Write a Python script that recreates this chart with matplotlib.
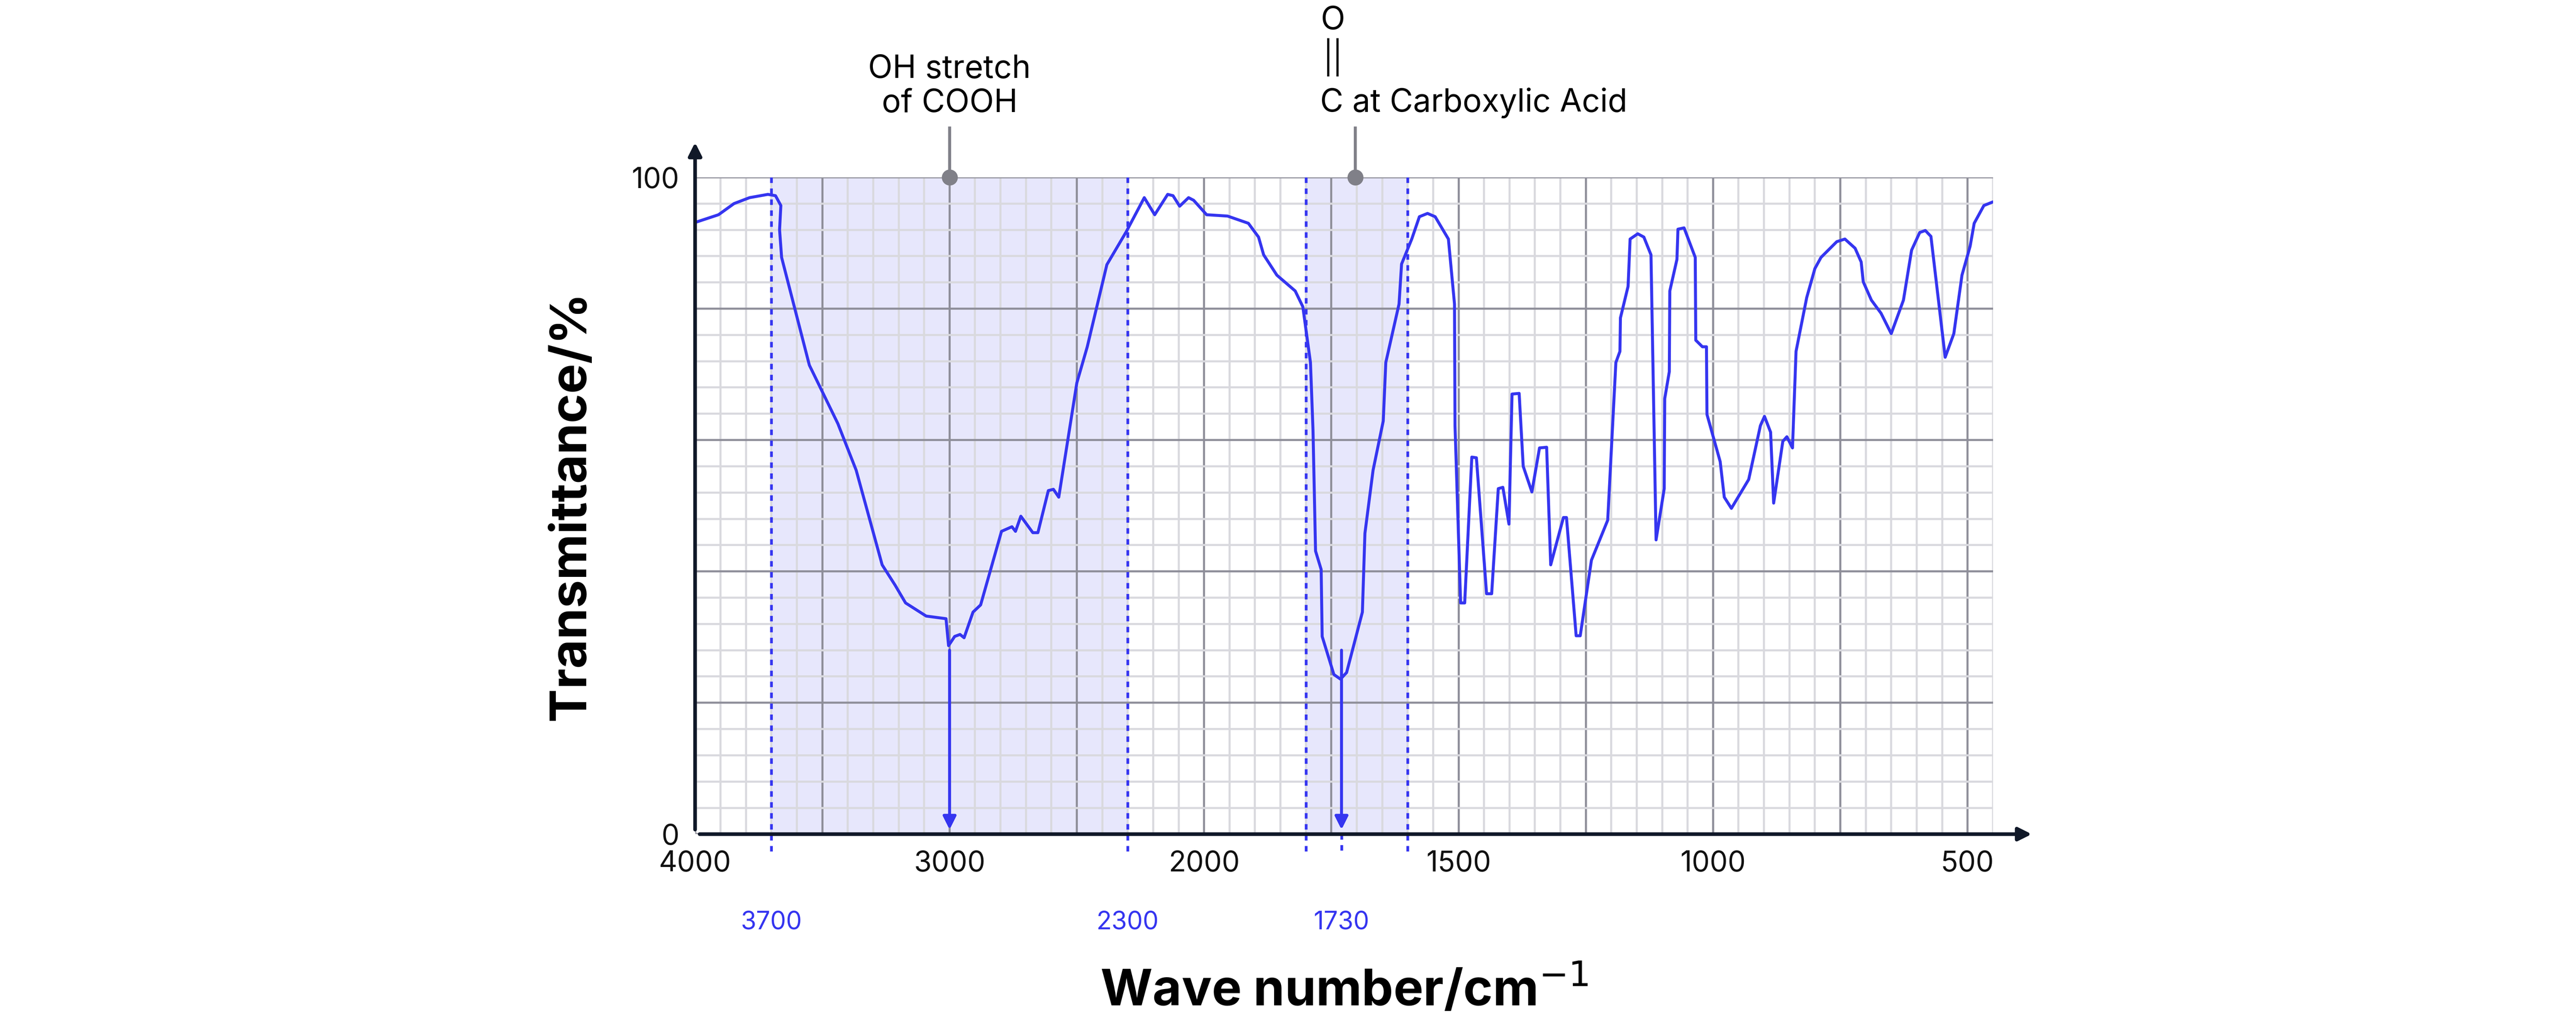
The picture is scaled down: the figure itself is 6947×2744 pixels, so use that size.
import matplotlib
matplotlib.use("Agg")
import matplotlib.pyplot as plt
import numpy as np

plt.rcParams['font.family'] = ['Inter', 'DejaVu Sans']

wavenumber = [3994,3908,3847,3786,3714,3684,3663,3668,3660,3551,3439,3367,3265,3214,3173,3092,3014,3004,2980,2959,2943,2908,2878,2796,2755,2741,2720,2673,2653,2612,2592,2571,2500,2459,2382,2306,2235,2194,2143,2122,2096,2061,2041,1995,1954,1913,1893,1883,1857,1821,1806,1791,1786,1781,1770,1768,1745,1732,1720,1689,1684,1668,1648,1643,1617,1612,1592,1577,1561,1546,1520,1508,1507,1496,1488,1474,1465,1445,1435,1422,1413,1401,1395,1381,1373,1356,1341,1327,1319,1294,1288,1269,1261,1239,1207,1191,1183,1182,1167,1163,1148,1136,1122,1112,1096,1095,1086,1085,1071,1069,1057,1035,1034,1021,1013,1012,986,978,964,930,907,899,887,881,863,855,844,837,816,800,788,757,741,721,709,705,689,670,650,626,610,594,583,572,544,527,511,495,487,468,452]
transmittance = [93.2,94.3,96.0,96.9,97.4,97.2,95.7,92.0,87.8,71.4,62.5,55.4,41.0,37.9,35.2,33.2,32.8,28.7,30.1,30.4,29.9,33.8,34.9,46.1,46.8,46.1,48.4,45.9,45.9,52.3,52.5,51.3,68.7,74.2,86.7,91.7,96.9,94.3,97.4,97.2,95.6,96.9,96.5,94.3,94.1,93.0,90.9,88.2,85.1,82.7,80.3,71.8,61.5,43.1,40.3,30.1,24.3,23.6,24.6,33.8,45.8,55.4,62.9,71.8,80.7,86.8,90.6,94.0,94.5,94.0,90.6,80.7,62.2,35.2,35.2,57.4,57.3,36.6,36.6,52.6,52.8,47.2,67.0,67.1,56.0,52.1,58.8,58.9,41.0,48.2,48.2,30.2,30.2,41.7,47.8,71.8,73.5,78.6,83.4,90.6,91.4,90.9,88.2,44.8,52.6,66.3,70.4,82.7,87.5,92.1,92.3,87.8,75.2,74.2,74.2,63.9,56.7,51.3,49.6,54.0,62.2,63.6,61.2,50.4,59.8,60.5,58.8,73.5,81.7,86.1,87.8,90.2,90.6,89.2,87.1,84.1,81.3,79.3,76.2,81.3,88.9,91.6,91.9,91.0,72.6,76.2,85.1,89.5,93.0,95.7,96.2]

x_ticks = [4000, 3000, 2000, 1500, 1000, 500]
marked = [3700, 2300, 1730]
shade_bands = [(3700, 2300), (1800, 1600)]
dotted_lines = [3700, 2300, 1800, 1600]
y_ticks = [0, 100]

def pos(w):
    w = np.asarray(w, dtype=float)
    return np.where(w >= 2000, (4000 - w) / 1000.0, 2 + (2000 - w) / 500.0)

BLUE = '#3535f0'
fig = plt.figure(figsize=(15.68, 6.193), dpi=443.1)
ax = fig.add_axes([0.2698, 0.1806, 0.5038, 0.6452])
ax.set_xlim(0, 5.1)
ax.set_ylim(0, 100)

for xv in np.arange(0, 5.1001, 0.1):
    major = abs(xv / 0.5 - round(xv / 0.5)) < 1e-6
    ax.axvline(xv, color='#8e8e99' if major else '#d9d9de', lw=0.9, zorder=1)
for yv in range(0, 101, 4):
    ax.axhline(yv, color='#8e8e99' if yv % 20 == 0 else '#d9d9de', lw=0.9, zorder=1)

for a, b in shade_bands:
    ax.axvspan(float(pos(a)), float(pos(b)), color='#6b6bf0', alpha=0.16, lw=0, zorder=0.5)
for d in dotted_lines:
    ax.plot([pos(d), pos(d)], [100, -3], ls=(0, (2, 2)), color=BLUE, lw=1.2, clip_on=False, zorder=2)
ax.plot([pos(1730), pos(1730)], [0, -3], ls=(0, (2, 2)), color=BLUE, lw=1.2, clip_on=False, zorder=2)

ax.plot(pos(wavenumber), transmittance, color=BLUE, lw=1.3, zorder=3)

for w, t in [(3000, 28.7), (1730, 28.7)]:
    ax.annotate('', xy=(pos(w), 0), xytext=(pos(w), t),
                arrowprops=dict(arrowstyle='-|>', color=BLUE, lw=1.3, mutation_scale=12), zorder=4)

for s in ax.spines.values():
    s.set_visible(False)
ax.annotate('', xy=(5.27, 0), xytext=(0, 0), annotation_clip=False,
            arrowprops=dict(arrowstyle='-|>', color='#101828', lw=1.6, mutation_scale=12))
ax.annotate('', xy=(0, 106), xytext=(0, 0), annotation_clip=False,
            arrowprops=dict(arrowstyle='-|>', color='#101828', lw=1.6, mutation_scale=12))

ax.set_xticks(pos(x_ticks))
ax.set_xticklabels([str(v) for v in x_ticks], fontsize=12.5, color='#111111')
ax.set_yticks(y_ticks)
ax.set_yticklabels([str(v) for v in y_ticks], fontsize=12.5, color='#111111')
ax.tick_params(length=0, pad=7)
for m in marked:
    ax.text(pos(m), -13.5, str(m), color=BLUE, fontsize=11, ha='center', va='center')

ax.set_xlabel('Wave number/cm$^{-1}$', fontsize=22, fontweight='bold', labelpad=38)
ax.set_ylabel('Transmittance/%', fontsize=22, fontweight='bold', labelpad=16)

GREY = '#808088'
# OH annotation
ax.plot([1, 1], [100, 107.5], color=GREY, lw=1.3, clip_on=False, zorder=5)
ax.plot([1], [100], 'o', color=GREY, ms=6, clip_on=False, zorder=5)
ax.text(1, 109, 'OH stretch\nof COOH', ha='center', va='bottom', fontsize=14, linespacing=1.15)
# C=O annotation
px = float(pos(1703))
ax.plot([px, px], [100, 107.5], color=GREY, lw=1.3, clip_on=False, zorder=5)
ax.plot([px], [100], 'o', color=GREY, ms=6, clip_on=False, zorder=5)
cx = float(pos(1757))
ax.text(cx - 0.03, 109, 'C at Carboxylic Acid', ha='left', va='bottom', fontsize=14)
ax.text(cx + 0.02, 121.5, 'O', ha='center', va='bottom', fontsize=14)
for dx in (-0.018, 0.018):
    ax.plot([cx + 0.02 + dx] * 2, [115.5, 121], color='#111111', lw=1.0, clip_on=False)

fig.savefig('out.png', dpi=443.1, facecolor='white')
